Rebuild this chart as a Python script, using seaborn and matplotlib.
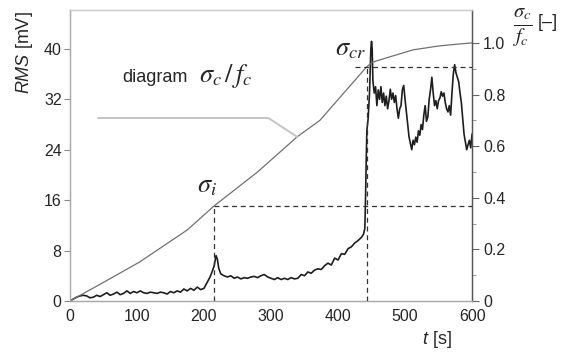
import matplotlib
matplotlib.use("Agg")
import matplotlib.pyplot as plt
import seaborn as sns
import pandas as pd
import numpy as np

sns.set_style("white")
plt.rcParams['font.family'] = ['Liberation Sans', 'DejaVu Sans']
plt.rcParams['mathtext.fontset'] = 'custom'
plt.rcParams['mathtext.rm'] = 'Liberation Sans'
plt.rcParams['mathtext.it'] = 'Liberation Sans:italic'

# RMS signal [mV] vs time [s]
t_rms = [0, 5, 10, 15, 20, 25, 30, 35, 40, 45, 50, 55, 60, 65, 70, 75, 80, 85, 90, 95,
         100, 105, 110, 115, 120, 125, 130, 135, 140, 145, 150, 155, 160, 165, 170, 175,
         180, 185, 190, 195, 200, 203, 206, 209, 212, 215, 218, 220, 222, 225, 230, 235,
         240, 245, 250, 255, 260, 265, 270, 275, 280, 285, 290, 295, 300, 305, 310, 315,
         320, 325, 330, 335, 340, 345, 350, 355, 360, 365, 370, 375, 380, 385, 390, 395,
         400, 405, 410, 415, 420, 425, 430, 435, 438, 440, 441, 442, 443, 445, 447, 449,
         450, 451, 452, 454, 456, 458, 460, 462, 464, 466, 468, 470, 472, 474, 476, 478,
         480, 482, 484, 486, 488, 490, 492, 494, 496, 498, 500, 502, 504, 506, 508, 510,
         512, 514, 516, 518, 520, 522, 524, 526, 528, 530, 532, 534, 536, 538, 540, 542,
         544, 546, 548, 550, 552, 554, 556, 558, 560, 562, 564, 566, 568, 570, 572, 574,
         576, 578, 580, 582, 584, 586, 588, 590, 592, 594, 596, 598, 600]
rms = [0.0, 0.3, 0.6, 0.8, 0.9, 0.8, 0.5, 0.6, 0.9, 0.7, 1.0, 1.3, 0.9, 1.1, 1.4, 1.0, 1.2, 1.6, 1.2, 1.5,
       1.3, 1.6, 1.3, 1.2, 1.4, 1.3, 1.2, 1.4, 1.3, 1.1, 1.5, 1.3, 1.6, 1.4, 1.9, 1.6,
       2.0, 1.7, 2.2, 1.8, 2.0, 2.6, 3.2, 3.8, 4.6, 5.5, 7.2, 6.6, 5.2, 4.3, 4.0, 3.8,
       4.0, 3.6, 3.8, 3.5, 3.7, 3.6, 3.8, 3.9, 3.7, 4.0, 4.2, 3.8, 3.6, 3.4, 3.7, 3.4,
       3.6, 3.4, 3.7, 3.5, 3.6, 4.2, 4.0, 4.6, 4.4, 4.9, 5.1, 5.0, 5.6, 6.0, 5.7, 6.8,
       6.5, 7.5, 7.4, 8.3, 8.6, 9.2, 9.6, 10.1, 10.6, 11.5, 16, 22, 27, 29, 33, 40,
       41.2, 40, 35, 33, 34, 31, 33.5, 32, 34, 31.5, 33, 31, 32.5, 30.5, 31.8, 33.6,
       32, 33, 31.5, 32.6, 30.5, 29, 30.5, 31, 33.5, 34.2, 32, 30, 28, 26, 25, 24,
       25.5, 24.8, 26, 25.2, 27, 26.3, 28, 27.2, 29.5, 31, 28.5, 29.2, 32, 33.5, 35.5, 33,
       31, 31.8, 30.5, 31.8, 32.2, 33.2, 32.5, 33.0, 31.5, 30.5, 30, 31, 29.5, 33, 36, 37.5,
       36.2, 35.5, 34.8, 33, 31.5, 29, 26.5, 25.3, 24, 24.8, 25.5, 24.3, 26.5]

# diagram sigma_c / f_c [-]
t_diag = [0, 50, 104, 175, 215, 280, 339, 373, 410, 443, 452, 480, 512, 550, 582, 600]
ratio = [0, 0.072, 0.151, 0.275, 0.368, 0.50, 0.636, 0.70, 0.81, 0.908, 0.926, 0.948,
         0.973, 0.988, 0.996, 1.0]

# characteristic points
t_i, ratio_i = 215, 0.368
t_cr, ratio_cr = 443, 0.907
cr_line_start = 425

# leader line for the "diagram" label
lead_t = [42, 296, 339]
lead_v = [0.709, 0.709, 0.636]

df_rms = pd.DataFrame({'t': t_rms, 'rms': rms})
df_diag = pd.DataFrame({'t': t_diag, 'ratio': ratio})

fig = plt.figure(figsize=(5.64, 3.52), dpi=100)
ax = fig.add_axes([0.124, 0.145, 0.713, 0.827])
ax2 = ax.twinx()

sns.lineplot(data=df_rms, x='t', y='rms', ax=ax, color='#1e1e1e', linewidth=1.2)
sns.lineplot(data=df_diag, x='t', y='ratio', ax=ax2, color='#707070', linewidth=0.9)
ax2.plot(lead_t, lead_v, color='#c4c4c4', linewidth=1.4)

# dashed guide lines
dash = dict(color='#333333', linewidth=0.9, linestyle=(0, (4, 3)))
ax2.plot([t_i, t_i], [0, ratio_i], **dash)
ax2.plot([t_i, 600], [ratio_i, ratio_i], **dash)
ax2.plot([t_cr, t_cr], [0, ratio_cr], **dash)
ax2.plot([cr_line_start, 600], [ratio_cr, ratio_cr], **dash)

ax.set_xlim(0, 600)
ax.set_ylim(0, 46.2)
ax2.set_ylim(0, 1.128)
ax.set_xticks(np.arange(0, 601, 100))
ax.set_yticks(np.arange(0, 41, 8))
ax2.set_yticks([0, 0.2, 0.4, 0.6, 0.8, 1.0])
ax2.set_yticklabels(['0', '0.2', '0.4', '0.6', '0.8', '1.0'])
ax2.set_yticks(np.arange(0.1, 1.01, 0.2), minor=True)
ax.set_xlabel('')
ax.set_ylabel('')
ax2.set_ylabel('')

ax.tick_params(axis='x', direction='in', length=4, color='#888888', labelsize=11.5, pad=6)
ax.tick_params(axis='y', direction='out', length=4, color='#888888', labelsize=11.5, pad=2)
ax2.tick_params(axis='y', which='major', direction='out', length=5, color='#666666', labelsize=11.5, pad=3)
ax2.tick_params(axis='y', which='minor', direction='out', length=3, color='#888888')

for a in (ax, ax2):
    a.spines['left'].set_color('#aaaaaa')
    a.spines['bottom'].set_color('#aaaaaa')
    a.spines['top'].set_color('#cccccc')
    a.spines['right'].set_color('#555555')
    for s in a.spines.values():
        s.set_linewidth(0.9)

# annotations
ax2.text(78, 0.85, 'diagram', fontsize=13, va='baseline')
ax2.text(193, 0.85, r'$\sigma_c\,/\,f_c$', fontsize=19, math_fontfamily='stix', va='baseline')
ax2.text(190, 0.419, r'$\sigma_i$', fontsize=19, math_fontfamily='stix', va='baseline')
ax2.text(395, 0.953, r'$\sigma_{cr}$', fontsize=19, math_fontfamily='stix', va='baseline')

fig.text(0.044, 0.85, r'$\mathit{RMS}$ [mV]', rotation=90, fontsize=13, ha='center', va='center')
fig.text(0.775, 0.035, r'$\mathit{t}$ [s]', fontsize=13, ha='center', va='center')
fig.text(0.925, 0.922, r'$\frac{\sigma_c}{f_c}$', fontsize=21, math_fontfamily='stix', ha='center', va='center')
fig.text(0.972, 0.937, '[–]', fontsize=13, ha='center', va='center')

fig.savefig('out.png', dpi=100)
